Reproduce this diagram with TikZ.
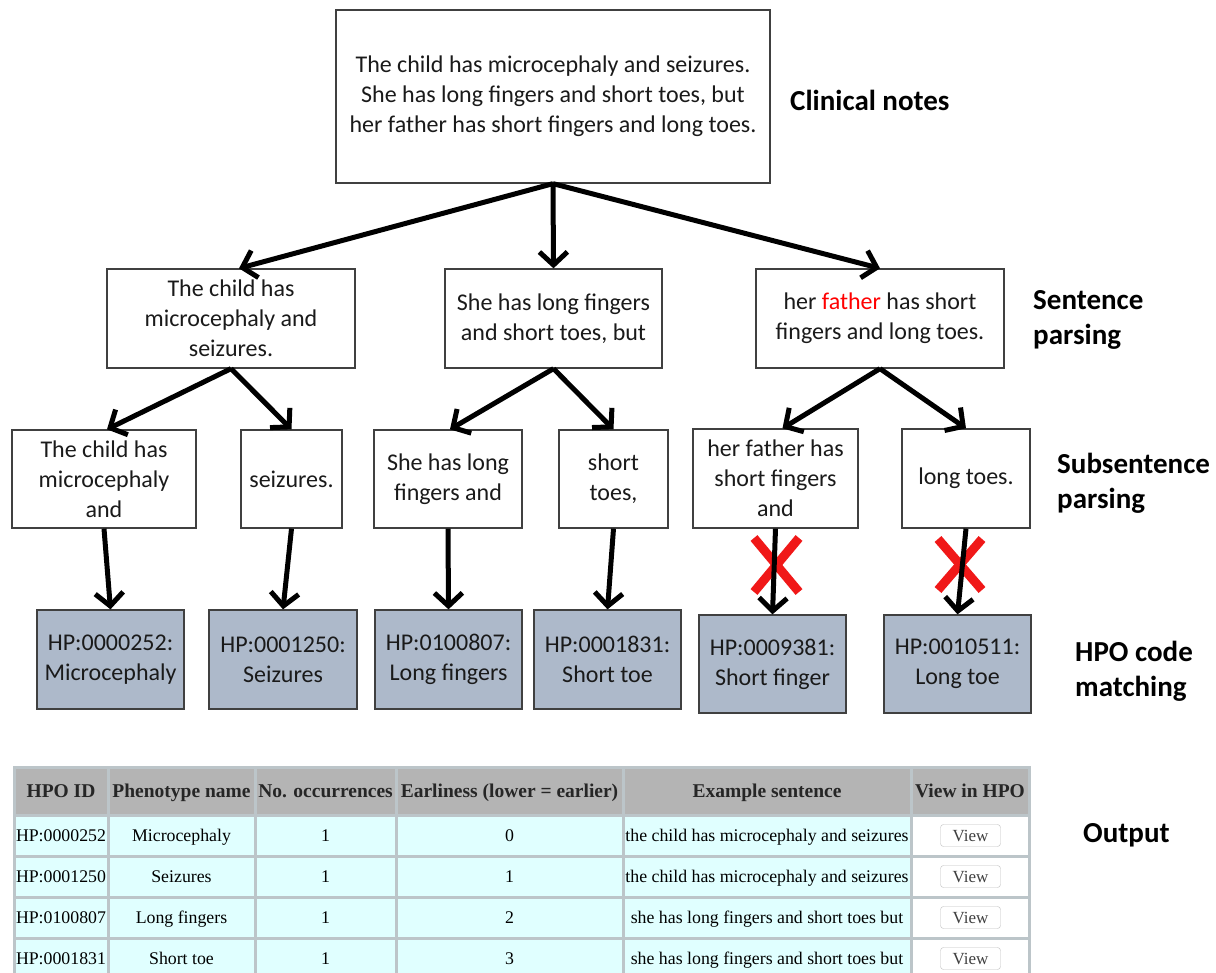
\documentclass[tikz,border=0pt]{standalone}
\usepackage{fontspec}
\setmainfont{Carlito}
\newfontfamily\tabfont{Liberation Serif}
\usetikzlibrary{arrows.meta,calc}
\definecolor{hpofill}{HTML}{ADB9CA}
\definecolor{boxline}{HTML}{404040}
\definecolor{xred}{HTML}{F01818}
\definecolor{thead}{HTML}{B4B4B4}
\definecolor{tbody}{HTML}{E0FFFF}
\definecolor{tgrid}{HTML}{BCC5C9}
\definecolor{txtdark}{HTML}{1A1A1A}
\begin{document}
\begin{tikzpicture}[x=1pt,y=-1pt,
  textbox/.style={draw=boxline, line width=1.3pt, fill=white, inner sep=0pt, align=center,
    font=\fontsize{24}{30}\selectfont, text=txtdark},
  hpobox/.style={textbox, fill=hpofill, minimum width=147, minimum height=99},
  conn/.style={line width=5pt, -{Straight Barb[length=13pt,width=28pt]}},
  sidelabel/.style={anchor=west, align=left, inner sep=0pt, font=\fontsize{29}{35}\selectfont\bfseries, text=black},
  hcell/.style={fill=thead, inner sep=0pt, minimum height=45, text height=15pt, text depth=2pt,
    font=\tabfont\fontsize{19.5}{22}\selectfont\bfseries, text=black!85},
  bcell/.style={fill=tbody, inner sep=0pt, minimum height=38, text height=14pt, text depth=2pt,
    font=\tabfont\fontsize{17.8}{20}\selectfont, text=black},
  wcell/.style={bcell, fill=white},
  viewbtn/.style={draw=black!25, fill=white, rounded corners=3pt, inner sep=0pt, minimum width=60, minimum height=22,
    text height=13pt, text depth=2pt, font=\tabfont\fontsize{17}{20}\selectfont, text=black!75},
  xmark/.style={draw=xred, line width=9pt}
]
\useasboundingbox (0,0) rectangle (1216,973);

% ---------- tree ----------
\node[textbox, minimum width=434, minimum height=173] (top) at (553,96.5)
  {The child has microcephaly and seizures.\\She has long fingers and short toes, but\\her father has short fingers and long toes.};

\node[textbox, minimum width=248, minimum height=99] (s1) at (231,318.5) {The child has\\microcephaly and\\seizures.};
\node[textbox, minimum width=217, minimum height=99] (s2) at (553.5,318.5) {She has long fingers\\and short toes, but};
\node[textbox, minimum width=248, minimum height=99] (s3) at (880,318.5) {her \textcolor{red}{father} has short\\fingers and long toes.};

\node[textbox, minimum width=184, minimum height=98] (u1) at (104,479) {The child has\\microcephaly\\and};
\node[textbox, minimum width=101, minimum height=98] (u2) at (291.5,479) {seizures.};
\node[textbox, minimum width=148, minimum height=98] (u3) at (448,479) {She has long\\fingers and};
\node[textbox, minimum width=109, minimum height=98] (u4) at (613.5,479) {short\\toes,};
\node[textbox, minimum width=165, minimum height=99] (u5) at (775.5,478.5) {her father has\\short fingers\\and};
\node[textbox, minimum width=128, minimum height=99] (u6) at (966,478.5) {long toes.};

\node[hpobox] (p1) at (110.5,659.5) {HP:0000252:\\Microcephaly};
\node[hpobox, minimum width=148] (p2) at (283,659.5) {HP:0001250:\\Seizures};
\node[hpobox] (p3) at (448.5,659.5) {HP:0100807:\\Long fingers};
\node[hpobox] (p4) at (607.5,659.5) {HP:0001831:\\Short toe};
\node[hpobox, minimum height=98] (p5) at (772.5,664) {HP:0009381:\\Short finger};
\node[hpobox, minimum height=98] (p6) at (957.5,664) {HP:0010511:\\Long toe};

% red crosses (behind the arrows)
\draw[xmark] (754,538) -- (799,592);
\draw[xmark] (799,538) -- (754,592);
\draw[xmark] (938,539) -- (982,590);
\draw[xmark] (982,539) -- (938,590);

% connectors
\draw[conn] (top.south) -- ([xshift=8pt]s1.north);
\draw[conn] (top.south) -- (s2.north);
\draw[conn] (top.south) -- (s3.north);
\draw[conn] (s1.south) -- ([xshift=3pt]u1.north);
\draw[conn] (s1.south) -- (u2.north);
\draw[conn] (s2.south) -- ([xshift=2pt]u3.north);
\draw[conn] (s2.south) -- (u4.north);
\draw[conn] (s3.south) -- ([xshift=7pt]u5.north);
\draw[conn] (s3.south) -- (u6.north);
\draw[conn] (u1.south) -- (p1.north);
\draw[conn] (u2.south) -- (p2.north);
\draw[conn] (u3.south) -- (p3.north);
\draw[conn] (u4.south) -- (p4.north);
\draw[conn] (u5.south) -- (p5.north);
\draw[conn] (u6.south) -- (p6.north);

% side labels
\node[sidelabel] (l1) at (790,100) {Clinical notes};
\node[sidelabel] (l2) at (1033,320) {Sentence\\parsing};
\node[sidelabel] (l3) at (1057,483) {Subsentence\\parsing};
\node[sidelabel] (l4) at (1075,671.5) {HPO code\\matching};
\node[sidelabel] (l5) at (1083,835) {Output};

% ---------- table ----------
\begin{scope}
\clip (0,0) rectangle (1216,973);
\fill[tgrid] (12.5,765.5) rectangle (1030.5,981);
\node[hcell, minimum width=91]  (h1) at (61,791)    {HPO ID};
\node[hcell, minimum width=144] (h2) at (181.5,791) {Phenotype name};
\node[hcell, minimum width=138] (h3) at (325.5,791) {No. occurrences};
\node[hcell, minimum width=224] (h4) at (509.5,791) {Earliness (lower = earlier)};
\node[hcell, minimum width=285] (h5) at (767,791)   {Example sentence};
\node[hcell, minimum width=115] (h6) at (970,791)   {View in HPO};
\foreach \r/\y/\id/\nm/\e/\sent in {
  1/835.5/HP:0000252/Microcephaly/0/the child has microcephaly and seizures,
  2/876.5/HP:0001250/Seizures/1/the child has microcephaly and seizures,
  3/917.5/HP:0100807/Long fingers/2/she has long fingers and short toes but,
  4/958.5/HP:0001831/Short toe/3/she has long fingers and short toes but}{
  \node[bcell, minimum width=91]  (r\r c1) at (61,\y)    {\id};
  \node[bcell, minimum width=144] (r\r c2) at (181.5,\y) {\nm};
  \node[bcell, minimum width=138] (r\r c3) at (325.5,\y) {1};
  \node[bcell, minimum width=224] (r\r c4) at (509.5,\y) {\e};
  \node[bcell, minimum width=285] (r\r c5) at (767,\y)   {\sent};
  \node[wcell, minimum width=115] (r\r c6) at (970,\y)   {};
  \node[viewbtn] (v\r) at (970.5,\y) {View};
}
\end{scope}
\end{tikzpicture}
\end{document}
